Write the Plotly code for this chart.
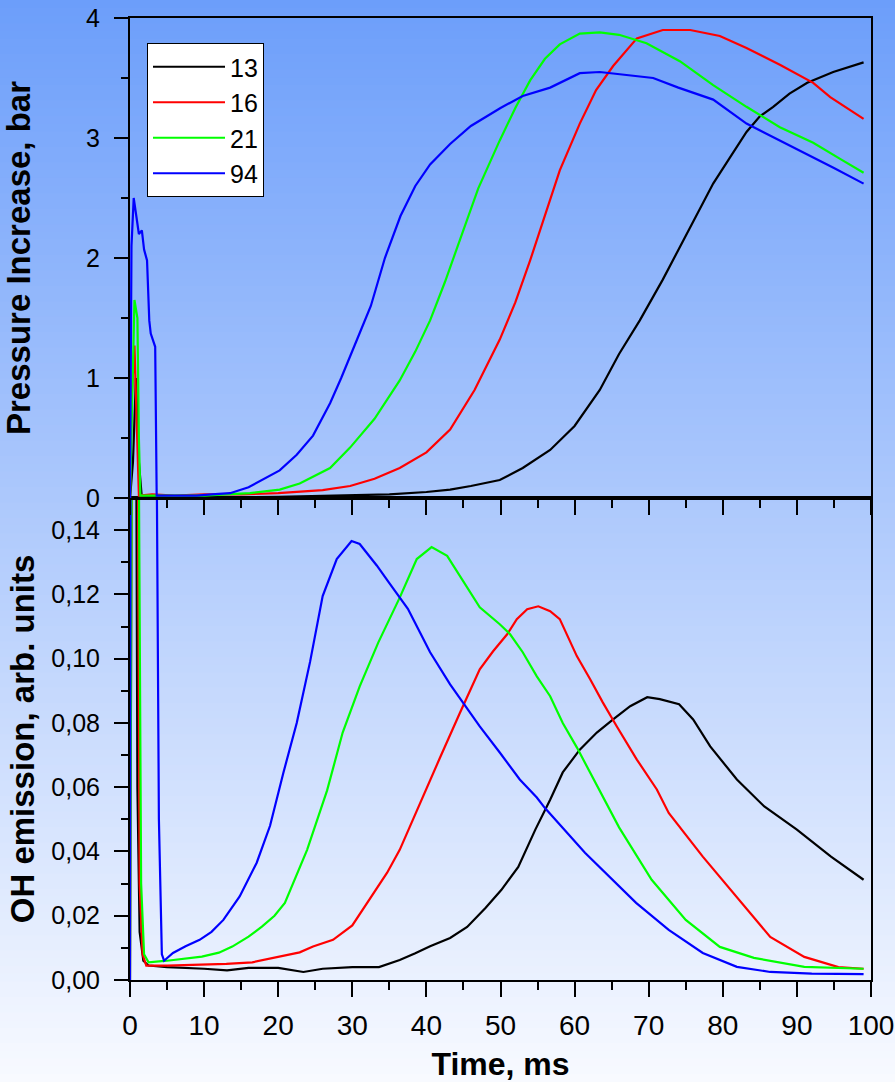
import plotly.graph_objects as go

# ---------------- data ----------------
series_names = ["13", "16", "21", "94"]
series_colors = ["#000000", "#ff0000", "#00ff00", "#0000ff"]

# Pressure increase, bar (top panel)
p13_t = [0, 0.4, 0.8, 1.2, 1.6, 5, 10, 20, 30, 35, 40, 43.2, 46, 49.9, 53, 56.7, 60, 63.4, 66,
         68.8, 71.9, 74.2, 76.5, 78.7, 81, 83.2, 85, 86.8, 89, 91.4, 94.9, 97, 99]
p13_v = [0, 0.3, 1.0, 0.3, 0.0, 0.0, 0.0, 0.01, 0.02, 0.03, 0.05, 0.07, 0.1, 0.15, 0.25, 0.4, 0.6,
         0.9, 1.2, 1.48, 1.82, 2.09, 2.37, 2.62, 2.84, 3.05, 3.18, 3.26, 3.37, 3.46, 3.55, 3.59, 3.63]

p16_t = [0, 0.2, 0.6, 0.9, 1.2, 3, 6, 10, 15, 20, 22.9, 26, 29.7, 33, 36.4, 40, 43.2, 46.5, 49.9,
         52, 54, 56, 58, 60.7, 62.9, 65.2, 68.4, 71.9, 75.6, 79.6, 83.2, 87.7, 92.2, 94.5, 99]
p16_v = [0, 0.8, 1.27, 0.6, 0.02, 0.03, 0.02, 0.03, 0.03, 0.04, 0.05, 0.065, 0.1, 0.16, 0.25, 0.38,
         0.57, 0.9, 1.32, 1.63, 1.98, 2.35, 2.73, 3.12, 3.4, 3.6, 3.83, 3.9, 3.9, 3.85, 3.75, 3.61,
         3.46, 3.34, 3.16]

p21_t = [0, 0.2, 0.6, 1.0, 1.2, 1.4, 3, 6, 10, 13, 16.2, 20.2, 22.9, 27, 29.7, 33, 36.4, 38.5,
         40.5, 42.5, 44.5, 47, 49.9, 52, 54, 56, 58, 60.7, 63.4, 66, 69.7, 74.2, 78.7, 83.2, 87.7,
         92.2, 96, 99]
p21_v = [0, 0.6, 1.65, 1.5, 0.5, 0.02, 0.02, 0.02, 0.02, 0.03, 0.04, 0.07, 0.12, 0.25, 0.42, 0.66,
         0.98, 1.22, 1.48, 1.8, 2.15, 2.58, 2.98, 3.25, 3.48, 3.66, 3.78, 3.87, 3.88, 3.86, 3.79,
         3.64, 3.44, 3.26, 3.09, 2.96, 2.82, 2.71]

p94_t = [0, 0.2, 0.5, 1.2, 1.6, 1.9, 2.3, 2.6, 2.8, 3.1, 3.4, 3.6, 6, 9, 11, 13.5, 16, 18, 20.2,
         22.5, 24.7, 27, 28.5, 30.5, 32.5, 34.4, 36.5, 38.5, 40.5, 43.2, 46, 50, 53, 56.7, 60.7,
         63.4, 66, 70.6, 74, 78.7, 83.2, 87.7, 92.2, 95, 99]
p94_v = [0, 2.1, 2.5, 2.2, 2.23, 2.07, 1.98, 1.48, 1.37, 1.32, 1.26, 0.02, 0.02, 0.02, 0.03, 0.04,
         0.09, 0.16, 0.23, 0.36, 0.52, 0.79, 1.0, 1.3, 1.6, 2.0, 2.35, 2.6, 2.78, 2.95, 3.1, 3.25,
         3.35, 3.42, 3.54, 3.55, 3.53, 3.5, 3.42, 3.32, 3.12, 2.98, 2.84, 2.75, 2.62]

# OH emission, arb. units (bottom panel)
oh13_t = [0, 0.3, 0.8, 1.0, 1.3, 1.8, 2.5, 5, 8, 10, 13.1, 16, 20, 23.4, 26, 30, 33.6, 36.4, 38.5,
          40.5, 43.2, 45.5, 48, 50.1, 52.4, 54.7, 56.7, 58.4, 60.7, 63, 65.2, 67.5, 69.8, 71.5,
          74.1, 76, 78.3, 81.9, 85.6, 90, 94.6, 99]
oh13_v = [0.2, 0.2, 0.2, 0.06, 0.015, 0.006, 0.0045, 0.004, 0.0038, 0.0035, 0.003, 0.0038, 0.0038,
          0.0025, 0.0035, 0.004, 0.004, 0.0062, 0.0083, 0.0105, 0.0131, 0.0165, 0.0225, 0.028,
          0.0352, 0.0468, 0.0561, 0.0646, 0.0717, 0.077, 0.0811, 0.0852, 0.088, 0.0874, 0.0858,
          0.0811, 0.0727, 0.0624, 0.054, 0.0468, 0.0384, 0.0312]

oh16_t = [0, 0.3, 1.0, 1.3, 1.7, 2.2, 5, 10, 13, 16.5, 20, 22.9, 24.7, 27.4, 30, 32, 34.7, 36.4,
          39.1, 41.8, 44.5, 47.2, 49, 50.9, 52.2, 53.6, 55.1, 56.7, 58, 59.4, 60.3, 62.1, 63.8,
          65.7, 68.4, 71.1, 72.7, 77.3, 81.9, 86.4, 91, 95.6, 99]
oh16_v = [0.0, 0.2, 0.2, 0.03, 0.008, 0.0045, 0.0045, 0.0048, 0.005, 0.0055, 0.0073, 0.0086,
          0.0104, 0.0125, 0.017, 0.024, 0.0334, 0.0405, 0.055, 0.069, 0.083, 0.0967, 0.1023,
          0.1076, 0.1123, 0.1154, 0.1163, 0.1148, 0.1123, 0.105, 0.1008, 0.0936, 0.0864, 0.0789,
          0.0686, 0.0593, 0.052, 0.0384, 0.0259, 0.0134, 0.0072, 0.004, 0.0035]

oh21_t = [0, 0.3, 1.1, 1.5, 1.9, 2.5, 5, 9.7, 12, 13.8, 16, 17.8, 19.5, 20.9, 23.9, 26.6, 28.7, 31,
          33.5, 36.4, 38.7, 40.7, 42.8, 45, 47.2, 49.9, 51.3, 53, 54.9, 56.7, 58.4, 60.3, 62.1,
          64.1, 66, 70.4, 75, 79.6, 84.2, 91, 99]
oh21_v = [0.0, 0.2, 0.2, 0.03, 0.008, 0.0055, 0.006, 0.0073, 0.0085, 0.0104, 0.0135, 0.0166, 0.02,
          0.024, 0.0405, 0.059, 0.077, 0.0914, 0.105, 0.119, 0.131, 0.1347, 0.132, 0.1238, 0.116,
          0.1107, 0.1076, 0.102, 0.0945, 0.0883, 0.08, 0.0724, 0.0646, 0.0561, 0.0475, 0.0312,
          0.0187, 0.0103, 0.0069, 0.0041, 0.0035]

oh94_t = [0, 0.1, 3.5, 3.9, 4.3, 4.6, 5.8, 7.5, 9.4, 11, 12.6, 14.8, 17.1, 18.9, 20.7, 22.5, 24.3,
          26, 27.9, 29.9, 31, 33.3, 35, 36.4, 37.5, 38.5, 40.5, 43.2, 47.2, 49.9, 52.6, 54.9, 56,
          61.4, 68.3, 72.7, 77.3, 81.9, 86.4, 92, 99]
oh94_v = [0.0, 0.2, 0.2, 0.05, 0.008, 0.006, 0.0084, 0.0105, 0.0125, 0.015, 0.0187, 0.026, 0.0365,
          0.048, 0.0645, 0.08, 0.099, 0.1195, 0.131, 0.1366, 0.1357, 0.129, 0.1235, 0.119, 0.1155,
          0.111, 0.102, 0.092, 0.0789, 0.0708, 0.0624, 0.0568, 0.0535, 0.0396, 0.024, 0.0156,
          0.0084, 0.0041, 0.0025, 0.002, 0.0018]

x_tick_vals = [0, 10, 20, 30, 40, 50, 60, 70, 80, 90, 100]
p_tick_vals = [0, 1, 2, 3, 4]
oh_tick_vals = [0.0, 0.02, 0.04, 0.06, 0.08, 0.10, 0.12, 0.14]

# ---------------- figure ----------------
W, H = 895, 1082
ML, MR, MT, MB = 130, 24, 18, 102
pw, ph = W - ML - MR, H - MT - MB
split = (H - MB - 498) / ph

fig = go.Figure()

top_sets = [(p13_t, p13_v), (p16_t, p16_v), (p21_t, p21_v), (p94_t, p94_v)]
bot_sets = [(oh13_t, oh13_v), (oh16_t, oh16_v), (oh21_t, oh21_v), (oh94_t, oh94_v)]

for name, col, (t, v) in zip(series_names, series_colors, top_sets):
    fig.add_trace(go.Scatter(x=t, y=v, mode="lines", name=name, legendgroup=name,
                             line=dict(color=col, width=2.2), xaxis="x2", yaxis="y2"))
for name, col, (t, v) in zip(series_names, series_colors, bot_sets):
    fig.add_trace(go.Scatter(x=t, y=v, mode="lines", name=name, legendgroup=name,
                             showlegend=False, line=dict(color=col, width=2.2),
                             xaxis="x", yaxis="y"))

# gradient background (paper-referenced bands)
c0 = (108, 158, 250)
c1 = (248, 250, 255)
N = 140
y_lo = -MB / ph
y_hi = 1 + MT / ph
x_lo = -ML / pw
x_hi = 1 + MR / pw
shapes = []
for i in range(N):
    f = (i + 0.5) / N
    col = tuple(round(c0[k] + (c1[k] - c0[k]) * f) for k in range(3))
    ytop = y_hi - (y_hi - y_lo) * i / N
    ybot = y_hi - (y_hi - y_lo) * (i + 1) / N - 0.002
    shapes.append(dict(type="rect", xref="paper", yref="paper", x0=x_lo, x1=x_hi,
                       y0=ybot, y1=ytop, fillcolor="rgb(%d,%d,%d)" % col,
                       line=dict(width=0), layer="below"))

axis_common = dict(showline=True, linecolor="black", linewidth=2, mirror=True,
                   ticks="outside", tickcolor="black", tickwidth=2, showgrid=False,
                   zeroline=False)

narrow = "Liberation Sans Narrow, Arial Narrow, Liberation Sans, Arial"
regular = "Liberation Sans, Arial"

fig.update_layout(
    width=W, height=H,
    margin=dict(l=ML, r=MR, t=MT, b=MB, autoexpand=False),
    paper_bgcolor="rgb(180,205,252)",
    plot_bgcolor="rgba(0,0,0,0)",
    separators=", ",
    shapes=shapes,
    showlegend=True,
    legend=dict(x=17 / pw, y=1 - 25 / ph, xanchor="left", yanchor="top",
                bgcolor="white", bordercolor="black", borderwidth=1,
                font=dict(family=regular, size=25, color="black"),
                itemwidth=72, tracegroupgap=0),
    xaxis=dict(axis_common, domain=[0, 1], anchor="y", range=[0, 100],
               tickvals=x_tick_vals, ticklen=15, ticklabelstandoff=4,
               minor=dict(dtick=5, ticklen=8, tickwidth=2, tickcolor="black", ticks="outside"),
               tickfont=dict(family=narrow, size=28, color="black"),
               title=dict(text="<b>Time, ms</b>", standoff=22,
                          font=dict(family=narrow, size=32, color="black"))),
    xaxis2=dict(axis_common, domain=[0, 1], anchor="y2", matches="x", range=[0, 100],
                tickvals=x_tick_vals, ticklen=15, showticklabels=False,
                minor=dict(dtick=5, ticklen=8, tickwidth=2, tickcolor="black", ticks="outside")),
    yaxis=dict(axis_common, domain=[0, split], anchor="x", range=[0, 0.15],
               tickvals=oh_tick_vals, tickformat=".2f", ticklen=14, ticklabelstandoff=9,
               minor=dict(dtick=0.01, ticklen=7, tickwidth=2, tickcolor="black", ticks="outside"),
               tickfont=dict(family=regular, size=25, color="black"),
               title=dict(text="<b>OH emission, arb. units</b>", standoff=7,
                          font=dict(family=regular, size=33, color="black"))),
    yaxis2=dict(axis_common, domain=[split, 1], anchor="x2", range=[0, 4],
                tickvals=p_tick_vals, ticklen=14, ticklabelstandoff=9,
                minor=dict(dtick=0.5, ticklen=7, tickwidth=2, tickcolor="black", ticks="outside"),
                tickfont=dict(family=regular, size=25, color="black"),
                title=dict(text="<b>Pressure Increase, bar</b>", standoff=46,
                           font=dict(family=regular, size=33, color="black"))),
)

fig.write_html("out.html")
